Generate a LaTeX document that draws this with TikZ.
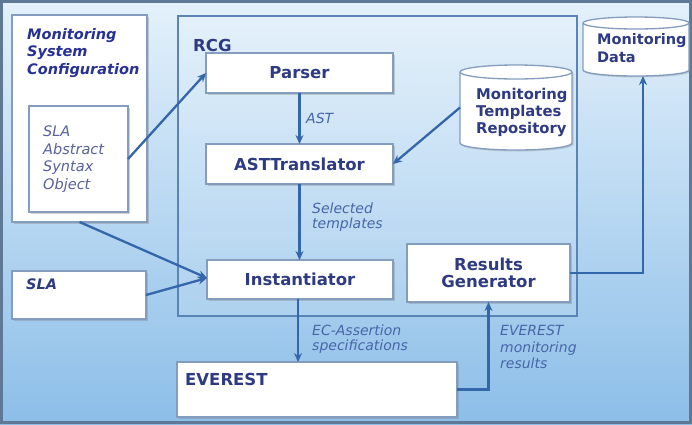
\documentclass[tikz,border=0pt]{standalone}
\usepackage{fontspec}
\setmainfont{DejaVu Sans}
\usetikzlibrary{shadows,calc,arrows.meta}
\definecolor{bgtop}{HTML}{E4F1FB}
\definecolor{bgbot}{HTML}{8CBEE8}
\definecolor{nodetext}{HTML}{2E3A82}
\definecolor{labeltext}{HTML}{4766A8}
\definecolor{arrowc}{HTML}{3466AC}
\definecolor{boxborder}{HTML}{849CBE}
\definecolor{rcgborder}{HTML}{5A84B6}
\definecolor{outerborder}{HTML}{5E7896}
\begin{document}
\begin{tikzpicture}[x=1pt,y=-1pt,
  box/.style={draw=boxborder, line width=1.3pt, fill=white, inner sep=0pt, outer sep=0pt, anchor=north west,
    drop shadow={shadow xshift=1.5pt, shadow yshift=-1.5pt, opacity=0.35}},
  big/.style={font=\bfseries\fontsize{16.5}{17}\selectfont, text=nodetext, align=center},
  txt/.style={inner sep=0pt, anchor=north west, align=left},
  lbl/.style={txt, text=labeltext, font=\itshape\fontsize{14}{15}\selectfont},
  conn/.style={draw=arrowc, line width=2.3pt, -{Stealth[length=9pt,width=8pt]}},
  cyl/.style={draw=boxborder, line width=1.3pt, fill=white}
]
\useasboundingbox (0,0) rectangle (692,424);
\shade[top color=bgtop, bottom color=bgbot] (0,0) rectangle (692,424);
\draw[outerborder, line width=2.5pt] (1.5,1.5) rectangle (690.5,422.5);

% RCG frame
\node[draw=rcgborder, line width=1.6pt, fill=white, fill opacity=0.12, inner sep=0pt, anchor=north west,
      minimum width=399pt, minimum height=300pt] (rcg) at (177,15) {};
\node[txt, font=\bfseries\fontsize{16.5}{17}\selectfont, text=nodetext] (rcgt) at (193,39) {RCG};

% Monitoring System Configuration
\node[box, minimum width=135pt, minimum height=207pt] (msc) at (12,15) {};
\node[txt, font=\bfseries\itshape\fontsize{14.5}{17.5}\selectfont, text=nodetext!85!blue] (msct) at (27,28)
  {Monitoring\\System\\Configuration};
\node[box, minimum width=99pt, minimum height=106pt] (slaabs) at (29,106) {};
\node[txt, font=\itshape\fontsize{14.5}{17.5}\selectfont, text=nodetext!80!white] (slaabst) at (43,126)
  {SLA\\Abstract\\Syntax\\Object};

% SLA
\node[box, minimum width=134pt, minimum height=48pt] (sla) at (12,271) {};
\node[txt, font=\bfseries\itshape\fontsize{14.5}{17}\selectfont, text=nodetext] (slat) at (26,279) {SLA};

% RCG boxes
\node[box, big, minimum width=187pt, minimum height=40pt] (parser) at (206,53) {Parser};
\node[box, big, minimum width=187pt, minimum height=40pt] (astt) at (206,144) {ASTTranslator};
\node[box, big, minimum width=186pt, minimum height=39pt] (inst) at (207,260) {Instantiator};
\node[box, big, minimum width=163pt, minimum height=58pt, font=\bfseries\fontsize{16.5}{17.5}\selectfont] (resgen) at (407,244) {Results\\Generator};

% EVEREST
\node[box, minimum width=280pt, minimum height=55pt] (everest) at (177,362) {};
\node[txt, font=\bfseries\fontsize{16.5}{17}\selectfont, text=nodetext] (everestt) at (185,373) {EVEREST};

% Monitoring Templates Repository cylinder
\path[cyl, drop shadow={shadow xshift=1.5pt, shadow yshift=-1.5pt, opacity=0.3}]
  (460,72) -- (460,143) arc[start angle=180, end angle=0, x radius=56, y radius=7]
  -- (572,72) arc[start angle=0, end angle=-180, x radius=56, y radius=7] -- cycle;
\draw[boxborder, line width=1.3pt] (460,72) arc[start angle=180, end angle=0, x radius=56, y radius=7];
\node[inner sep=0pt, outer sep=0pt, anchor=north west, minimum width=112pt, minimum height=85pt] (mtr) at (460,65) {};
\node[txt, font=\bfseries\fontsize{14.8}{17}\selectfont, text=nodetext] (mtrt) at (476,88)
  {Monitoring\\Templates\\Repository};

% Monitoring Data cylinder
\path[cyl, drop shadow={shadow xshift=1.5pt, shadow yshift=-1.5pt, opacity=0.3}]
  (583,23) -- (583,70) arc[start angle=180, end angle=0, x radius=53, y radius=6]
  -- (689,23) arc[start angle=0, end angle=-180, x radius=53, y radius=6] -- cycle;
\draw[boxborder, line width=1.3pt] (583,23) arc[start angle=180, end angle=0, x radius=53, y radius=6];
\node[inner sep=0pt, outer sep=0pt, anchor=north west, minimum width=106pt, minimum height=59pt] (md) at (583,17) {};
\node[txt, font=\bfseries\fontsize{14.5}{18}\selectfont, text=nodetext] (mdt) at (597,33)
  {Monitoring\\Data};

% connectors
\draw[conn] (slaabs.east) -- (parser.west);
\draw[conn] (msc.south) -- ($(inst.west)+(0,-1.5)$);
\draw[conn] (sla.east) -- ($(inst.west)+(0,-1.5)$);
\draw[conn] (parser.south) -- (astt.north);
\draw[conn] (mtr.west) -- (astt.east);
\draw[conn] (astt.south) -- (astt.south |- inst.north);
\draw[conn] ($(inst.south)+(-2,0)$) coordinate (ins) -- (ins |- everest.north);
\draw[conn] (everest.east) -| (resgen.south);
\draw[conn] (resgen.east) -| ($(md.south)+(7,0)$);

% labels
\node[lbl] (ast) at (306,113) {AST};
\node[lbl] (selt) at (312,203) {Selected\\templates};
\node[lbl] (ecas) at (312,325) {EC-Assertion\\specifications};
\node[lbl, font=\itshape\fontsize{14}{16.5}\selectfont] (evres) at (500,325) {EVEREST\\monitoring\\results};
\end{tikzpicture}
\end{document}
